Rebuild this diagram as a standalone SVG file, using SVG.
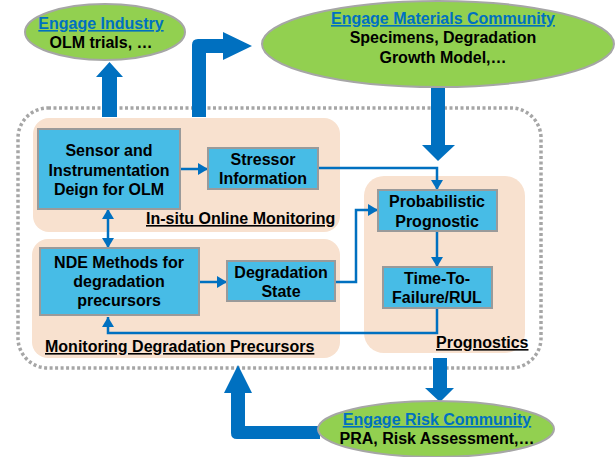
<svg xmlns="http://www.w3.org/2000/svg" width="616" height="457" viewBox="0 0 616 457">
<defs>
<style>
.t{font-family:"Liberation Sans",Arial,sans-serif;font-weight:bold;font-size:16px;fill:#000;text-anchor:middle}
.lk{fill:#0070C0;text-decoration:underline}
.lb{text-anchor:start;text-decoration:underline}
.ell{fill:#92D050;stroke:#A6A6A6;stroke-width:2}
.reg{fill:#F8E1CF}
.box{fill:#47BCE6;stroke:#9A9A9A;stroke-width:2}
.big{fill:#0070C0}
.con{fill:none;stroke:#0070C0;stroke-width:2.5}
</style>
<marker id="ah" viewBox="0 0 10 12" refX="10" refY="6" markerWidth="10" markerHeight="12" markerUnits="userSpaceOnUse" orient="auto-start-reverse">
<path d="M0,0 L10,6 L0,12 Z" fill="#0070C0"/>
</marker>
</defs>
<rect width="616" height="457" fill="#fff"/>

<g id="boundary">
<rect x="18" y="108" width="523" height="260" rx="30" ry="30" fill="none" stroke="#A6A6A6" stroke-width="3.5" stroke-dasharray="3 2.5"/>
</g>

<g id="region-insitu">
<rect class="reg" x="33" y="118" width="307" height="114" rx="16"/>
<text class="t lb" x="146" y="224">In-situ Online Monitoring</text>
</g>
<g id="region-precursors">
<rect class="reg" x="32" y="239" width="308" height="119" rx="16"/>
<text class="t lb" x="45" y="352">Monitoring Degradation Precursors</text>
</g>
<g id="region-prognostics">
<rect class="reg" x="364" y="176" width="161" height="177" rx="20"/>
<text class="t lb" x="436" y="348">Prognostics</text>
</g>

<g id="big-arrows">
<path class="big" d="M102,117 L102,77 L96,77 L109.5,62 L123,77 L117,77 L117,117 Z"/>
<path class="big" d="M192,117 L192,45 Q192,39 198,39 L223,39 L223,32 L252,46 L223,60 L223,53 L206,53 L206,117 Z"/>
<path class="big" d="M431,86 L445,86 L445,145 L455,145 L438,161 L422,145 L431,145 Z"/>
<path class="big" d="M433,358 L447,358 L447,388 L454,388 L440,402 L425,388 L433,388 Z"/>
<path class="big" d="M320,426 L245,426 L245,393 L252,393 L238,365 L224,393 L231,393 L231,433 Q231,439 237,439 L320,439 Z"/>
</g>

<g id="engage-industry">
<ellipse class="ell" cx="105" cy="32" rx="80" ry="28"/>
<text class="t lk" x="101" y="29">Engage Industry</text>
<text class="t" x="101" y="48">OLM trials, …</text>
</g>
<g id="engage-materials">
<ellipse class="ell" cx="438" cy="44" rx="176" ry="43"/>
<text class="t lk" x="443" y="24">Engage Materials Community</text>
<text class="t" x="443" y="43">Specimens, Degradation</text>
<text class="t" x="443" y="63">Growth Model,…</text>
</g>
<g id="engage-risk">
<ellipse class="ell" cx="436" cy="429" rx="118" ry="28"/>
<text class="t lk" x="437" y="425">Engage Risk Community</text>
<text class="t" x="437" y="444">PRA, Risk Assessment,…</text>
</g>

<g id="connectors">
<line class="con" x1="180" y1="169" x2="208" y2="169" marker-end="url(#ah)"/>
<polyline class="con" points="318,168 437,168 437,190" marker-end="url(#ah)"/>
<polyline class="con" points="335,282 356,282 356,210 378,210" marker-end="url(#ah)"/>
<line class="con" x1="437" y1="231" x2="437" y2="267" marker-end="url(#ah)"/>
<polyline class="con" points="437,308 437,333 108,333 108,317" marker-end="url(#ah)"/>
<line class="con" x1="108" y1="209" x2="108" y2="248" marker-start="url(#ah)" marker-end="url(#ah)"/>
<line class="con" x1="199" y1="282" x2="227" y2="282" marker-end="url(#ah)"/>
</g>

<g id="sensor">
<rect class="box" x="38" y="129" width="142" height="80"/>
<text class="t" x="109" y="156">Sensor and</text>
<text class="t" x="109" y="176">Instrumentation</text>
<text class="t" x="109" y="195">Deign for OLM</text>
</g>
<g id="stressor">
<rect class="box" x="208" y="148" width="110" height="41"/>
<text class="t" x="263" y="165">Stressor</text>
<text class="t" x="263" y="184">Information</text>
</g>
<g id="nde">
<rect class="box" x="40" y="248" width="159" height="67"/>
<text class="t" x="119" y="268">NDE Methods for</text>
<text class="t" x="119" y="287">degradation</text>
<text class="t" x="119" y="306">precursors</text>
</g>
<g id="degradation">
<rect class="box" x="227" y="261" width="108" height="40"/>
<text class="t" x="281" y="278">Degradation</text>
<text class="t" x="281" y="297">State</text>
</g>
<g id="probabilistic">
<rect class="box" x="378" y="190" width="119" height="41"/>
<text class="t" x="437" y="207">Probabilistic</text>
<text class="t" x="437" y="227">Prognostic</text>
</g>
<g id="ttf">
<rect class="box" x="383" y="267" width="109" height="41"/>
<text class="t" x="437" y="284">Time-To-</text>
<text class="t" x="437" y="303">Failure/RUL</text>
</g>
</svg>
